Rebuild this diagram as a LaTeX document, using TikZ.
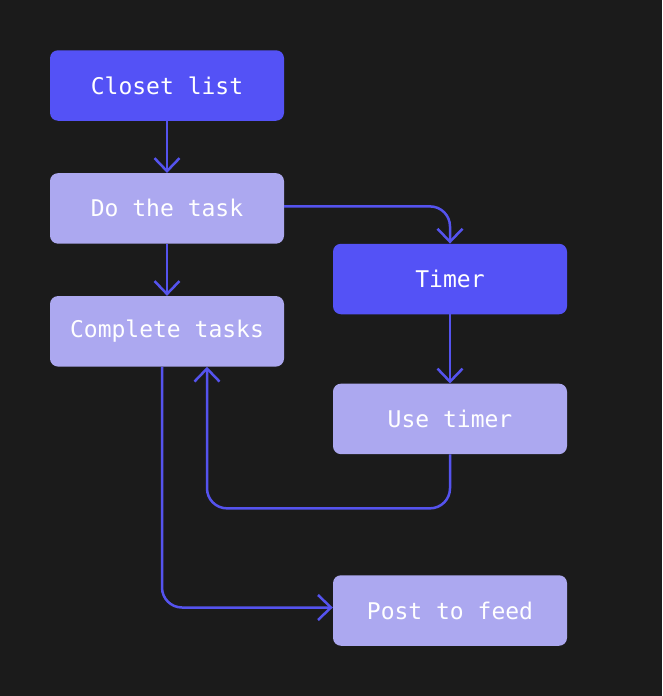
\documentclass[tikz,border=0pt]{standalone}
\usepackage{fontspec}
\setmonofont{DejaVu Sans Mono}
\usetikzlibrary{arrows.meta, positioning, calc}
\definecolor{bgdark}{HTML}{1B1B1B}
\definecolor{stepdark}{HTML}{5452F6}
\definecolor{steplight}{HTML}{ACA8F0}
\definecolor{flowline}{HTML}{5553EE}
\tikzset{
  % flow arrow style
  farr/.style={
    draw=flowline
    , line width=2.5pt
    , rounded corners=20pt
    , -{Straight Barb[length=13pt,width=25pt,line width=2.5pt]}
  },
}
\tikzset{
  % step box style
  stepbox/.style={
    fill=steplight
    , text=white
    , font=\ttfamily\fontsize{23}{26}\selectfont
    , minimum width=234pt
    , minimum height=70.5pt
    , inner sep=0pt
    , anchor=center
    , text centered
    , rounded corners=8pt
  },
  stepdarkbox/.style={
    stepbox
    , fill=stepdark
  },
}

\begin{document}
\begin{tikzpicture}[x=1pt, y=-1pt, node distance=52pt]
      \fill[bgdark] (0,0) rectangle (662,696);
      \useasboundingbox (0,0) rectangle (662,696);

      \node[stepdarkbox] (closet) at (167,85.5) {Closet list};
      \node[stepbox, below=of closet] (dotask) {Do the task};
      \node[stepbox, below=of dotask] (complete) {Complete tasks};
      \node[stepdarkbox] (timer) at (450,279) {Timer};
      \node[stepbox, below=69pt of timer] (usetimer) {Use timer};
      \node[stepbox] (post) at (450,610.5) {Post to feed};

      \draw[farr] (closet.south) -- (dotask.north);
      \draw[farr] ([yshift=2pt]dotask.east) -| (timer.north);
      \draw[farr] (dotask.south) -- (complete.north);
      \draw[farr] (timer.south) -- (usetimer.north);
      \draw[farr] (usetimer.south) -- ++(0,54) -| ([xshift=40pt]complete.south);
      \draw[farr] ([xshift=-5pt]complete.south) |- ([yshift=3pt]post.west);
    \end{tikzpicture}
\end{document}
